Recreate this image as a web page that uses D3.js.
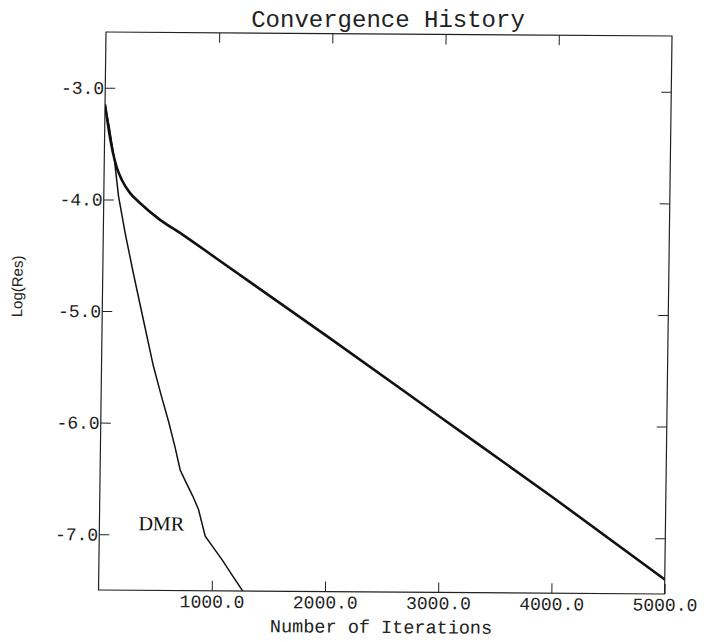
<!DOCTYPE html>
<head>
<meta charset="utf-8">
<script src="https://d3js.org/d3.v7.min.js"></script>
<style>
body {
margin: 0;
background: white;
}
.tick text {
font-family: "Liberation Mono", "DejaVu Sans Mono", monospace;
font-size: 18px;
fill: #222;
}
.tick line {
stroke: #222;
}
.domain {
display: none;
}
</style>
</head>

<body>
<svg width=704 height=642></svg>

<script>
// iterations vs log10 of the residual
var iterSlow = [0, 40, 80, 110, 160, 230, 320, 500, 700, 1000, 2000, 3000, 4000, 5000];
var resSlow = [-3.15, -3.40, -3.60, -3.71, -3.83, -3.94, -4.03, -4.18, -4.31, -4.52, -5.22, -5.93, -6.64, -7.37];

var iterDMR = [0, 40, 90, 130, 193, 270, 365, 458, 530, 600, 660, 707, 760, 820, 873, 936, 1000, 1087, 1180, 1267, 1320];
var resDMR = [-3.15, -3.35, -3.65, -3.97, -4.30, -4.66, -5.08, -5.49, -5.75, -5.99, -6.22, -6.42, -6.53, -6.65, -6.77, -7.01, -7.10, -7.22, -7.36, -7.49, -7.56];

var xTicks = [1000, 2000, 3000, 4000, 5000];
var xTopTicks = [1000, 2000, 3000, 4000];
var yTicks = [-3, -4, -5, -6, -7];

var W = 565, H = 558;
var svg = d3.select("svg");

svg.append("text")
.attr("x", 388)
.attr("y", 27)
.attr("text-anchor", "middle")
.text("Convergence History")
.style("font-family", '"Liberation Mono", monospace')
.style("font-size", "24px")
.style("fill", "#222");

// the scanned frame is slightly skewed, so the plot group is too
var g = svg.append("g")
.attr("transform", "matrix(1.0018,0.0071,-0.0134,1,106,32)");

var x = d3.scaleLinear().domain([0, 5000]).range([0, W]);
var y = d3.scaleLinear().domain([-7.5, -2.5]).range([H, 0]);

var fmt = d => d.toFixed(1);

g.append("g")
.attr("transform", "translate(0," + H + ")")
.call(d3.axisBottom(x).tickValues(xTicks).tickFormat(fmt).tickSize(-10).tickPadding(4));

g.append("g")
.call(d3.axisTop(x).tickValues(xTopTicks).tickFormat("").tickSize(-10));

g.append("g")
.call(d3.axisLeft(y).tickValues(yTicks).tickFormat(fmt).tickSize(-10).tickPadding(1));

g.append("g")
.attr("transform", "translate(" + W + ",0)")
.call(d3.axisRight(y).tickValues(yTicks).tickFormat("").tickSize(-10));

g.append("rect")
.attr("width", W)
.attr("height", H)
.style("fill", "none")
.style("stroke", "#222")
.style("stroke-width", 1.2);

g.append("clipPath").attr("id", "plotclip")
.append("rect").attr("width", W).attr("height", H);

var line = d3.line()
.x(d => x(d[0]))
.y(d => y(d[1]));

var smooth = d3.line()
.curve(d3.curveMonotoneX)
.x(d => x(d[0]))
.y(d => y(d[1]));

var slow = iterSlow.map((it, i) => [it, resSlow[i]]);
var dmr = iterDMR.map((it, i) => [it, resDMR[i]]);

g.append("path")
.attr("clip-path", "url(#plotclip)")
.attr("d", smooth(slow))
.style("fill", "none")
.style("stroke", "#111")
.style("stroke-width", 2.6);

g.append("path")
.attr("clip-path", "url(#plotclip)")
.attr("d", line(dmr))
.style("fill", "none")
.style("stroke", "#111")
.style("stroke-width", 1.5);

g.append("text")
.attr("x", 39)
.attr("y", 498)
.text("DMR")
.style("font-family", '"Liberation Serif", serif')
.style("font-size", "20px")
.style("fill", "#111");

g.append("text")
.attr("x", W / 2)
.attr("y", H + 41)
.attr("text-anchor", "middle")
.text("Number of Iterations")
.style("font-family", '"Liberation Mono", monospace')
.style("font-size", "18.5px")
.style("fill", "#222");

g.append("text")
.attr("transform", "translate(-80,255) rotate(-90)")
.attr("text-anchor", "middle")
.text("Log(Res)")
.style("font-family", '"Liberation Sans", sans-serif')
.style("font-size", "15px")
.style("fill", "#222");
</script>
</body>
